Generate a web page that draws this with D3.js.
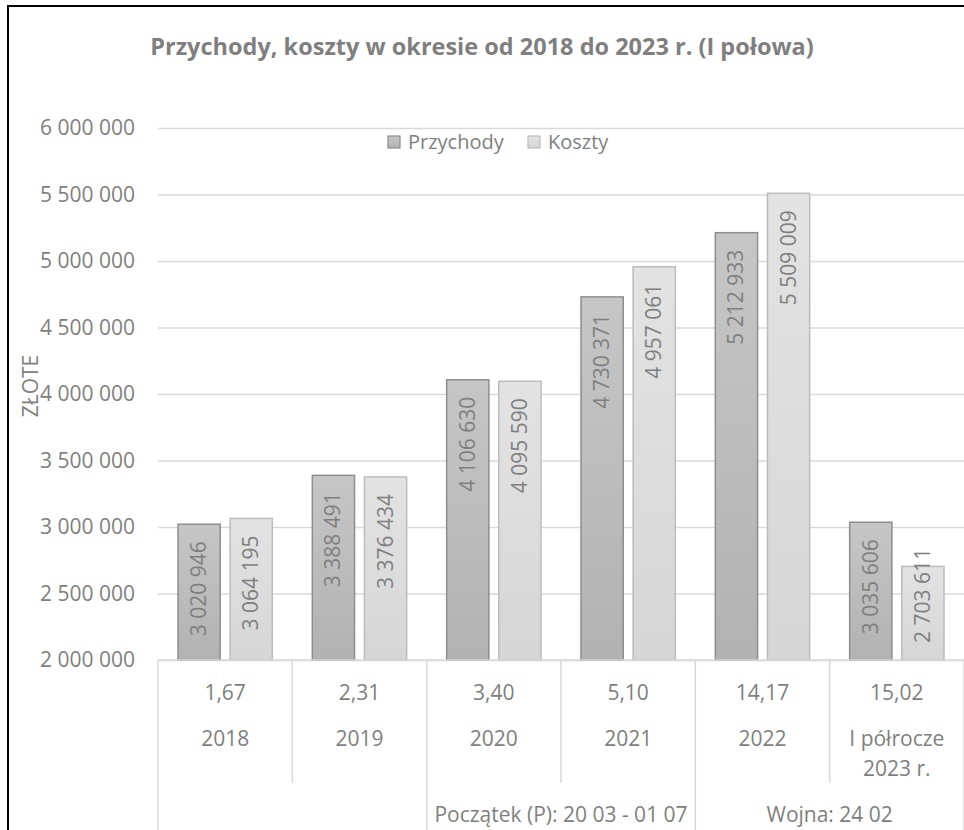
<!DOCTYPE html>
<html>
<head>
<meta charset="utf-8">
<script src="https://cdn.jsdelivr.net/npm/d3@7"></script>
<style>
  body { margin: 0; background: #fff; }
  text { font-family: "Open Sans", sans-serif; fill: #7f7f7f; }
</style>
</head>
<body>
<svg id="chart" width="964" height="830"></svg>
<script>
// chart data
const years = ["2018", "2019", "2020", "2021", "2022", "I półrocze|2023 r."];
const rates = ["1,67", "2,31", "3,40", "5,10", "14,17", "15,02"];
const przychody = [3020946, 3388491, 4106630, 4730371, 5212933, 3035606];
const koszty = [3064195, 3376434, 4095590, 4957061, 5509009, 2703611];
const seriesNames = ["Przychody", "Koszty"];
const groupLabels = ["", "Początek (P): 20 03 - 01 07", "Wojna: 24 02"];
const groupSpans = [[0, 1], [2, 3], [4, 5]];
const yTicks = [2000000, 2500000, 3000000, 3500000, 4000000, 4500000, 5000000, 5500000, 6000000];

const pl = d3.formatLocale({decimal: ",", thousands: " ", grouping: [3], currency: ["", " zł"]});
const fmt = pl.format(",d");

const svg = d3.select("#chart");
const plotL = 158, plotR = 964, plotT = 128, plotB = 660;

const x = d3.scaleBand().domain(d3.range(years.length)).range([plotL, plotR]).padding(0);
const inner = d3.scaleBand().domain(seriesNames)
    .range([20, x.bandwidth() - 20]).paddingInner(0.19).paddingOuter(0);
const y = d3.scaleLinear().domain([2000000, 6000000]).range([plotB, plotT]);

// gradients for the bars
const defs = svg.append("defs");
const grads = [["gPrz", "#c6c6c6", "#b2b2b2"], ["gKos", "#e3e3e3", "#d6d6d6"]];
grads.forEach(g => {
    const lg = defs.append("linearGradient").attr("id", g[0])
        .attr("x1", 0).attr("y1", 0).attr("x2", 0).attr("y2", 1);
    lg.append("stop").attr("offset", "0%").attr("stop-color", g[1]);
    lg.append("stop").attr("offset", "100%").attr("stop-color", g[2]);
});
const fills = {Przychody: "url(#gPrz)", Koszty: "url(#gKos)"};
const strokes = {Przychody: "#8e8e8e", Koszty: "#bcbcbc"};

// outer frame (cropped on right / bottom)
svg.append("path").attr("d", "M8,840 V6 H980")
    .attr("fill", "none").attr("stroke", "#000").attr("stroke-width", 2);

// title
svg.append("text").attr("x", 482).attr("y", 55).attr("text-anchor", "middle")
    .style("font-size", "23.5px").style("font-weight", "bold")
    .text("Przychody, koszty w okresie od 2018 do 2023 r. (I połowa)");

// gridlines + y axis
const yAxis = d3.axisLeft(y).tickValues(yTicks).tickFormat(fmt)
    .tickSize(-(plotR - plotL)).tickPadding(23);
const ga = svg.append("g").attr("transform", `translate(${plotL},0)`).call(yAxis);
ga.select(".domain").remove();
ga.selectAll(".tick line").attr("stroke", "#d9d9d9").attr("stroke-width", 1.5);
ga.selectAll(".tick text").style("font-size", "21px").attr("fill", "#7f7f7f")
    .style("font-family", "'Open Sans', sans-serif");

svg.append("text").attr("transform", "translate(38,386) rotate(-90)")
    .attr("text-anchor", "middle").style("font-size", "21px").text("ZŁOTE");

// bars
const rows = years.map((yr, i) => ({i, vals: [przychody[i], koszty[i]]}));
const grp = svg.append("g").selectAll("g").data(rows).enter().append("g")
    .attr("transform", d => `translate(${x(d.i)},0)`);

const bars = grp.selectAll("g.bar").data(d => d.vals.map((v, k) => ({name: seriesNames[k], v})))
    .enter().append("g").attr("class", "bar");

bars.append("rect")
    .attr("x", d => inner(d.name))
    .attr("y", d => y(d.v))
    .attr("width", inner.bandwidth())
    .attr("height", d => plotB - y(d.v))
    .attr("fill", d => fills[d.name])
    .attr("stroke", d => strokes[d.name])
    .attr("stroke-width", 1.5);

bars.append("text")
    .attr("transform", function(d) {
        const cx = inner(d.name) + inner.bandwidth() / 2;
        const len = 95;
        const endY = Math.min(y(d.v) + 17, plotB - 17 - len);
        return `translate(${cx + 7},${endY}) rotate(-90)`;
    })
    .attr("text-anchor", "end")
    .style("font-size", "21px")
    .text(d => fmt(d.v));

// bottom line
svg.append("line").attr("x1", plotL).attr("x2", plotR).attr("y1", plotB).attr("y2", plotB)
    .attr("stroke", "#d9d9d9").attr("stroke-width", 1.5);

// multi-level category axis
const catAxis = svg.append("g");
d3.range(years.length + 1).forEach(i => {
    const xx = i < years.length ? x(i) : plotR;
    const outer = groupSpans.some(s => s[0] === i) || i === years.length;
    catAxis.append("line").attr("x1", xx).attr("x2", xx)
        .attr("y1", plotB).attr("y2", outer ? 840 : 783)
        .attr("stroke", "#d9d9d9").attr("stroke-width", 1.5);
});

catAxis.selectAll("text.rate").data(rates).enter().append("text")
    .attr("class", "rate")
    .attr("x", (d, i) => x(i) + x.bandwidth() / 2).attr("y", 700)
    .attr("text-anchor", "middle").style("font-size", "21px").text(d => d);

catAxis.selectAll("text.year").data(years).enter().append("text")
    .attr("class", "year")
    .attr("x", (d, i) => x(i) + x.bandwidth() / 2).attr("y", 746)
    .attr("text-anchor", "middle").style("font-size", "21px")
    .each(function(d) {
        const parts = d.split("|");
        const t = d3.select(this);
        parts.forEach((p, k) => {
            t.append("tspan").attr("x", t.attr("x")).attr("dy", k === 0 ? 0 : 30).text(p);
        });
    });

catAxis.selectAll("text.group").data(groupLabels).enter().append("text")
    .attr("class", "group")
    .attr("x", (d, i) => (x(groupSpans[i][0]) + x(groupSpans[i][1]) + x.bandwidth()) / 2)
    .attr("y", 822)
    .attr("text-anchor", "middle").style("font-size", "21px").text(d => d);

// legend
const leg = svg.append("g").attr("transform", "translate(388,142)");
const legX = [0, 140];
seriesNames.forEach((n, k) => {
    const g = leg.append("g").attr("transform", `translate(${legX[k]},0)`);
    g.append("rect").attr("x", 0).attr("y", -6).attr("width", 12).attr("height", 12)
        .attr("fill", fills[n]).attr("stroke", strokes[n]).attr("stroke-width", 1.2);
    g.append("text").attr("x", 20).attr("y", 7).style("font-size", "20px").text(n);
});
</script>
</body>
</html>
